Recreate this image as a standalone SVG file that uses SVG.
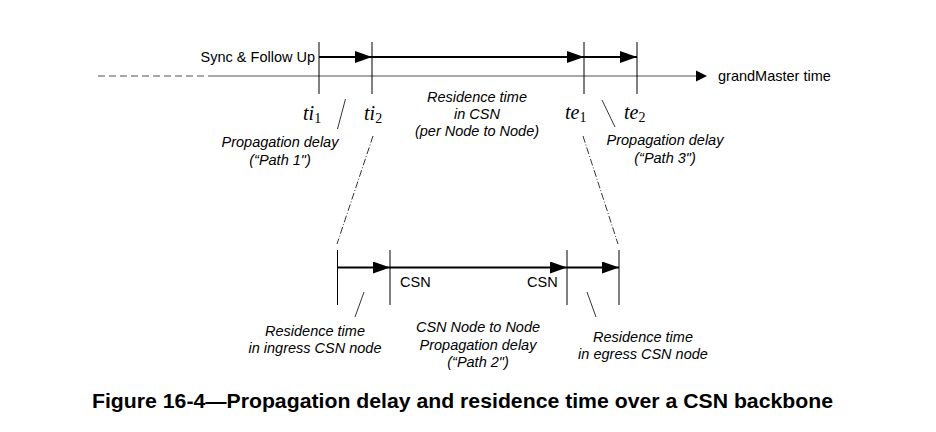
<svg xmlns="http://www.w3.org/2000/svg" width="936" height="432" viewBox="0 0 936 432">
<style>
.lbl{font-family:"Liberation Sans",Arial,sans-serif;font-size:14.5px;fill:#000}
.it{font-style:italic;text-anchor:middle}
.math{font-family:"Liberation Serif","Times New Roman",serif;font-size:20px;font-style:italic;fill:#000}
.sub{font-size:14px;font-style:normal}
.tick{stroke:#000;stroke-width:1;fill:none}
.arr{stroke:#000;stroke-width:2;fill:none;marker-end:url(#head)}
.lead{stroke:#000;stroke-width:0.8;fill:none}
.dd{stroke:#000;stroke-width:0.8;fill:none;stroke-dasharray:7 2 1 2}
.cap{font-family:"Liberation Sans",Arial,sans-serif;font-size:21px;font-weight:bold;text-anchor:middle;fill:#000}
</style>
<defs>
<marker id="head" markerUnits="userSpaceOnUse" markerWidth="18" markerHeight="12" refX="17" refY="6" orient="auto">
<path d="M0,0 L17,6 L0,12 z" fill="#000"/>
</marker>
<marker id="axhead" markerUnits="userSpaceOnUse" markerWidth="12" markerHeight="12" refX="1" refY="6" orient="auto">
<path d="M0,0.5 L11,6 L0,11.5 z" fill="#000"/>
</marker>
</defs>
<rect width="936" height="432" fill="#fff"/>

<g id="axis">
<line x1="98" y1="76" x2="214" y2="76" stroke="#a8a8a8" stroke-width="2" stroke-dasharray="7 4"/>
<line x1="213" y1="76" x2="697" y2="76" stroke="#a8a8a8" stroke-width="2" marker-end="url(#axhead)"/>
<text class="lbl" x="718" y="81">grandMaster time</text>
</g>

<g id="ticks-top">
<line class="tick" x1="319" y1="42" x2="319" y2="94"/>
<line class="tick" x1="372" y1="42" x2="372" y2="94"/>
<line class="tick" x1="584" y1="42" x2="584" y2="94"/>
<line class="tick" x1="637" y1="42" x2="637" y2="94"/>
</g>

<g id="ticks-bottom">
<line class="tick" x1="337.5" y1="250" x2="337.5" y2="305"/>
<line class="tick" x1="390" y1="250" x2="390" y2="305"/>
<line class="tick" x1="567" y1="250" x2="567" y2="305"/>
<line class="tick" x1="619" y1="250" x2="619" y2="305"/>
</g>

<g id="connectors">
<line class="arr" x1="319" y1="57" x2="372" y2="57"/>
<line class="arr" x1="372" y1="57" x2="584" y2="57"/>
<line class="arr" x1="584" y1="57" x2="637" y2="57"/>
<line class="arr" x1="337.5" y1="267.5" x2="390" y2="267.5"/>
<line class="arr" x1="390" y1="267.5" x2="567" y2="267.5"/>
<line class="arr" x1="567" y1="267.5" x2="619" y2="267.5"/>
<line class="lead" x1="345.5" y1="99" x2="337.5" y2="129"/>
<line class="lead" x1="602" y1="100" x2="615" y2="127"/>
<line class="lead" x1="364" y1="292" x2="355" y2="317"/>
<line class="lead" x1="587" y1="292" x2="596" y2="317"/>
<line class="dd" x1="373" y1="136" x2="337" y2="244"/>
<line class="dd" x1="583" y1="136" x2="618" y2="244"/>
</g>

<g id="sync-label"><text class="lbl" x="315" y="62" text-anchor="end">Sync &amp; Follow Up</text></g>

<g id="ti1"><text class="math" x="303" y="120">ti<tspan class="sub" dy="3">1</tspan></text></g>
<g id="ti2"><text class="math" x="364" y="120">ti<tspan class="sub" dy="3">2</tspan></text></g>
<g id="te1"><text class="math" x="565" y="119">te<tspan class="sub" dy="3">1</tspan></text></g>
<g id="te2"><text class="math" x="624" y="119">te<tspan class="sub" dy="3">2</tspan></text></g>

<g id="path1">
<text class="lbl it" x="280" y="147">Propagation delay</text>
<text class="lbl it" x="280" y="165">(“Path 1")</text>
</g>
<g id="residence-csn">
<text class="lbl it" x="477" y="102">Residence time</text>
<text class="lbl it" x="477" y="119">in CSN</text>
<text class="lbl it" x="477" y="136">(per Node to Node)</text>
</g>
<g id="path3">
<text class="lbl it" x="665" y="145">Propagation delay</text>
<text class="lbl it" x="665" y="163">(“Path 3")</text>
</g>

<g id="csn-labels">
<text class="lbl" x="400" y="287">CSN</text>
<text class="lbl" x="527" y="287">CSN</text>
</g>

<g id="ingress">
<text class="lbl it" x="315" y="336">Residence time</text>
<text class="lbl it" x="315" y="353">in ingress CSN node</text>
</g>
<g id="path2">
<text class="lbl it" x="478" y="332">CSN Node to Node</text>
<text class="lbl it" x="478" y="350">Propagation delay</text>
<text class="lbl it" x="478" y="367">(“Path 2")</text>
</g>
<g id="egress">
<text class="lbl it" x="643" y="342">Residence time</text>
<text class="lbl it" x="643" y="359">in egress CSN node</text>
</g>

<g id="caption"><text class="cap" x="462.5" y="408" textLength="741" lengthAdjust="spacingAndGlyphs">Figure 16-4—Propagation delay and residence time over a CSN backbone</text></g>
</svg>
